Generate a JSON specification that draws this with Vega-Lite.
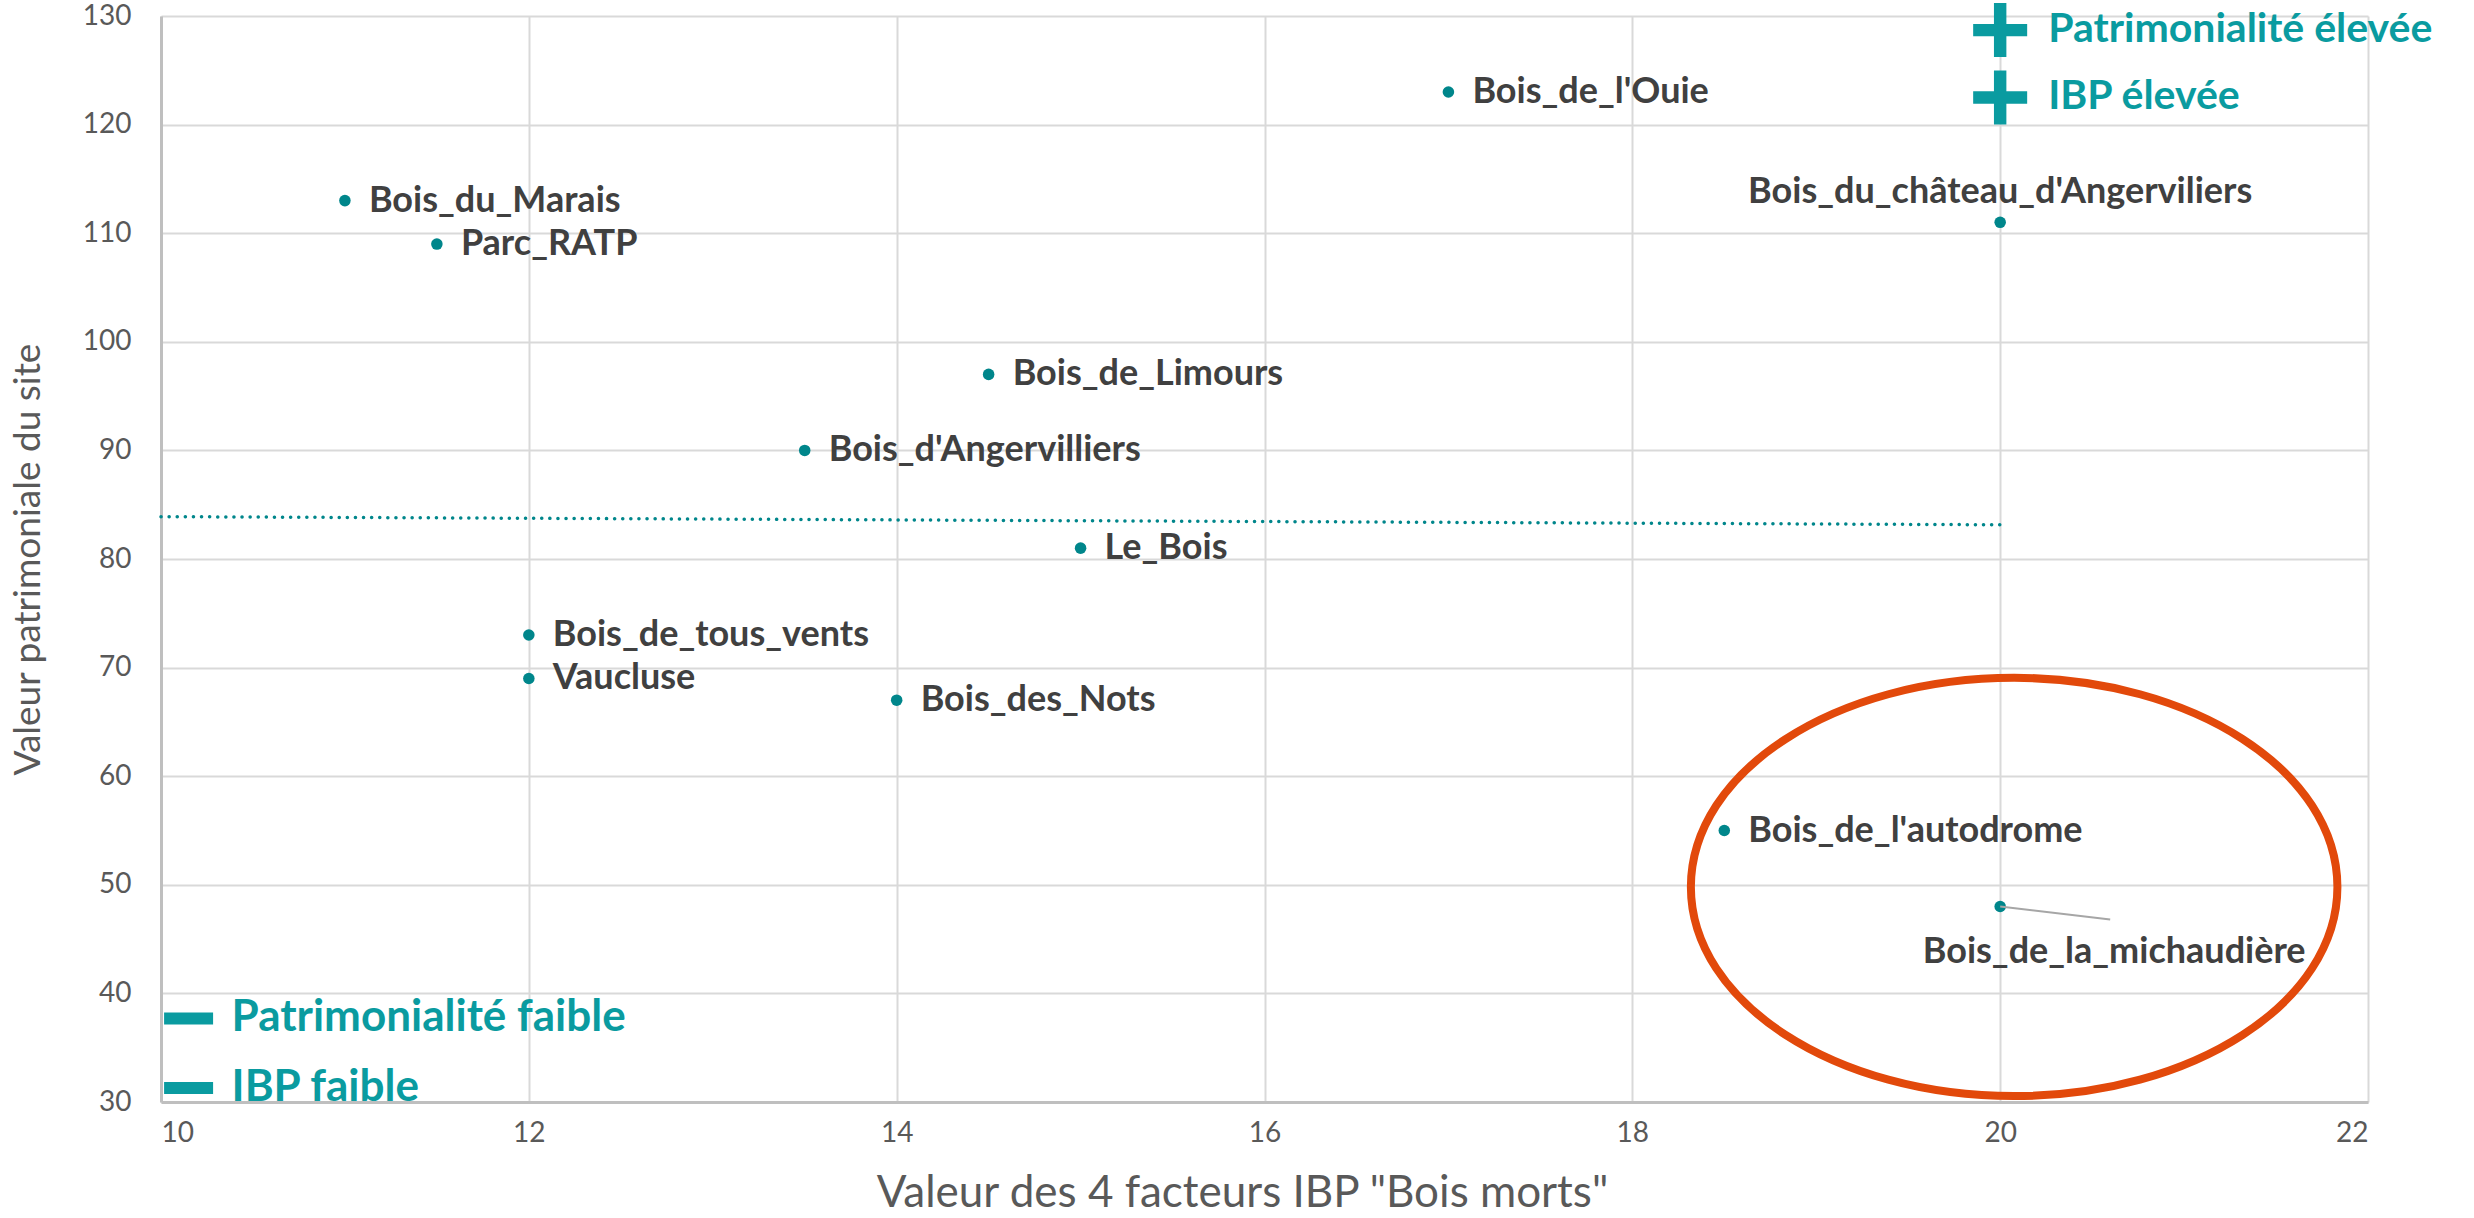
{
  "$schema": "https://vega.github.io/schema/vega-lite/v6.json",
  "width": 2207,
  "height": 1086,
  "autosize": {"type": "none"},
  "padding": {"left": 161, "top": 16, "right": 106, "bottom": 116},
  "background": "white",
  "config": {"view": {"stroke": null}, "font": "Lato"},
  "datasets": {
    "sites": [
      {"name": "Bois_de_l'Ouie", "x": 17, "y": 123},
      {"name": "Bois_du_Marais", "x": 11, "y": 113},
      {"name": "Parc_RATP", "x": 11.5, "y": 109},
      {"name": "Bois_du_château_d'Angerviliers", "x": 20, "y": 111},
      {"name": "Bois_de_Limours", "x": 14.5, "y": 97},
      {"name": "Bois_d'Angervilliers", "x": 13.5, "y": 90},
      {"name": "Le_Bois", "x": 15, "y": 81},
      {"name": "Bois_de_tous_vents", "x": 12, "y": 73},
      {"name": "Vaucluse", "x": 12, "y": 69},
      {"name": "Bois_des_Nots", "x": 14, "y": 67},
      {"name": "Bois_de_l'autodrome", "x": 18.5, "y": 55},
      {"name": "Bois_de_la_michaudière", "x": 20, "y": 48}
    ],
    "trend": [
      {"x": 10, "y": 83.9},
      {"x": 20, "y": 83.15}
    ],
    "ellipse": [
      {"x": 20.076, "y": 49.8}
    ],
    "legend": [
      {"label": "Patrimonialité élevée", "kind": "plus", "x": 20, "y": 128.7},
      {"label": "IBP élevée", "kind": "plus", "x": 20, "y": 122.5},
      {"label": "Patrimonialité faible", "kind": "minus", "x": 10.15, "y": 37.7},
      {"label": "IBP faible", "kind": "minus", "x": 10.15, "y": 31.3}
    ]
  },
  "encoding": {
    "x": {
      "field": "x", "type": "quantitative",
      "scale": {"domain": [10, 22], "nice": false, "zero": false},
      "axis": {
        "title": "Valeur des 4 facteurs IBP \"Bois morts\"",
        "values": [10, 12, 14, 16, 18, 20, 22],
        "grid": true, "gridColor": "#d9d9d9", "gridWidth": 2,
        "domainColor": "#bfbfbf", "domainWidth": 3,
        "ticks": false,
        "labelFontSize": 28, "labelColor": "#595959", "labelPadding": 17,
        "titleFontSize": 44, "titleFontWeight": "normal", "titleColor": "#595959", "titlePadding": 24,
        "titleX": 1081, "titleAlign": "center"
      }
    },
    "y": {
      "field": "y", "type": "quantitative",
      "scale": {"domain": [30, 130], "nice": false, "zero": false},
      "axis": {
        "title": "Valeur patrimoniale du site",
        "values": [30, 40, 50, 60, 70, 80, 90, 100, 110, 120, 130],
        "grid": true, "gridColor": "#d9d9d9", "gridWidth": 2,
        "domainColor": "#bfbfbf", "domainWidth": 3,
        "ticks": false,
        "labelFontSize": 28, "labelColor": "#595959", "labelPadding": 30,
        "titleFontSize": 37, "titleFontWeight": "normal", "titleColor": "#595959", "titlePadding": 35
      }
    }
  },
  "layer": [
    {
      "data": {"name": "trend"},
      "mark": {"type": "line", "color": "#00868B", "strokeWidth": 3.5, "strokeDash": [0.1, 8], "strokeCap": "round"}
    },
    {
      "data": {"name": "ellipse"},
      "mark": {
        "type": "point", "filled": false,
        "shape": "M -1 0 A 1 0.647 0 1 0 1 0 A 1 0.647 0 1 0 -1 0 Z",
        "size": 418000, "stroke": "#E2490B", "strokeWidth": 8, "opacity": 1
      }
    },
    {
      "data": {"name": "sites"},
      "mark": {"type": "circle", "color": "#00868B", "size": 133, "opacity": 1}
    },
    {
      "data": {"name": "sites"},
      "transform": [{"filter": {"not": {"field": "name", "oneOf": ["Bois_du_château_d'Angerviliers", "Bois_de_la_michaudière"]}}}],
      "mark": {"type": "text", "align": "left", "baseline": "middle", "dx": 24, "fontSize": 36, "fontWeight": "bold", "color": "#404040"},
      "encoding": {"text": {"field": "name"}}
    },
    {
      "data": {"name": "sites"},
      "transform": [{"filter": {"field": "name", "equal": "Bois_du_château_d'Angerviliers"}}],
      "mark": {"type": "text", "align": "center", "baseline": "middle", "dy": -30, "fontSize": 36, "fontWeight": "bold", "color": "#404040"},
      "encoding": {"text": {"field": "name"}}
    },
    {
      "data": {"name": "sites"},
      "transform": [{"filter": {"field": "name", "equal": "Bois_de_la_michaudière"}}],
      "mark": {"type": "rule", "color": "#a6a6a6", "strokeWidth": 2, "x2Offset": 110, "y2Offset": 13},
      "encoding": {"x2": {"field": "x"}, "y2": {"field": "y"}}
    },
    {
      "data": {"name": "sites"},
      "transform": [{"filter": {"field": "name", "equal": "Bois_de_la_michaudière"}}],
      "mark": {"type": "text", "align": "center", "baseline": "middle", "dx": 114, "dy": 45, "fontSize": 36, "fontWeight": "bold", "color": "#404040"},
      "encoding": {"text": {"field": "name"}}
    },
    {
      "data": {"name": "legend"},
      "transform": [{"filter": "datum.kind == 'plus'"}],
      "mark": {
        "type": "point", "filled": true, "color": "#0A9BA0", "opacity": 1, "strokeWidth": 0,
        "shape": "M -1 -0.23 H -0.23 V -1 H 0.23 V -0.23 H 1 V 0.23 H 0.23 V 1 H -0.23 V 0.23 H -1 Z",
        "size": 2916
      }
    },
    {
      "data": {"name": "legend"},
      "transform": [{"filter": "datum.kind == 'minus'"}],
      "mark": {
        "type": "point", "filled": true, "color": "#0A9BA0", "opacity": 1, "strokeWidth": 0,
        "shape": "M -1 -0.245 H 1 V 0.245 H -1 Z",
        "size": 2401
      }
    },
    {
      "data": {"name": "legend"},
      "transform": [{"filter": "datum.kind == 'plus'"}],
      "mark": {"type": "text", "align": "left", "baseline": "middle", "dx": 48, "fontSize": 41, "fontWeight": "bold", "color": "#0A9BA0"},
      "encoding": {"text": {"field": "label"}}
    },
    {
      "data": {"name": "legend"},
      "transform": [{"filter": "datum.kind == 'minus'"}],
      "mark": {"type": "text", "align": "left", "baseline": "middle", "dx": 43, "fontSize": 44, "fontWeight": "bold", "color": "#0A9BA0"},
      "encoding": {"text": {"field": "label"}}
    }
  ]
}
